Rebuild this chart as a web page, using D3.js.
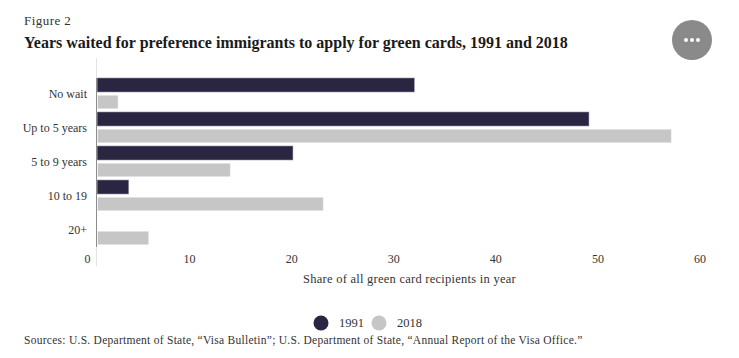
<!DOCTYPE html>
<html>
<head>
<meta charset="utf-8">
<script src="https://cdn.jsdelivr.net/npm/d3@7"></script>
<style>
  html, body { margin: 0; padding: 0; background: #fff; }
  text { font-family: "Liberation Serif", serif; fill: #333; }
</style>
</head>
<body>
<div id="chart"></div>
<script>
const categories = ['No wait', 'Up to 5 years', '5 to 9 years', '10 to 19', '20+'];
const values1991 = [32, 49.1, 20.1, 4, 0];
const values2018 = [3, 57.2, 14, 23.1, 6];
const xTicks = [0, 10, 20, 30, 40, 50, 60];
const years = ['1991', '2018'];
const colors = ['#2a2540', '#c6c6c6'];

const cw = 739, ch = 358;
const svg = d3.select('#chart').append('svg')
  .attr('width', cw).attr('height', ch)
  .style('display', 'block');

// Titles
svg.append('text').attr('x', 24).attr('y', 25)
  .attr('font-size', 13).attr('letter-spacing', 0.45).text('Figure 2');
svg.append('text').attr('x', 24).attr('y', 48)
  .attr('font-size', 16).attr('font-weight', 'bold').style('fill', '#1a1a1a')
  .text('Years waited for preference immigrants to apply for green cards, 1991 and 2018');

// Scales
const xScale = d3.scaleLinear().domain([0, 60]).range([87.5, 700]);
const yScale = d3.scaleBand().domain(categories).range([76.5, 246.5]).padding(0);
const inner = d3.scaleBand().domain(years).range([0, 34]).paddingInner(0.2).paddingOuter(0.1);
const barStart = 97.5; // bars are cut off at the axis line, right of the zero label

// Zero line
svg.append('line')
  .attr('x1', barStart - 1).attr('x2', barStart - 1)
  .attr('y1', 58).attr('y2', 266)
  .attr('stroke', '#e4e4e4').attr('stroke-width', 1);

// Bars
const drawBars = (vals, year, color) => {
  svg.append('g').selectAll('rect')
    .data(categories.map((c, i) => ({ c, v: vals[i] })).filter(d => d.v > 0))
    .join('rect')
    .attr('x', barStart)
    .attr('y', d => yScale(d.c) + inner(year))
    .attr('width', d => xScale(d.v) - barStart)
    .attr('height', inner.bandwidth())
    .attr('fill', color)
    .attr('stroke', d3.color(color).brighter(0.8))
    .attr('stroke-opacity', 0.5)
    .attr('stroke-width', 1);
};
drawBars(values1991, years[0], colors[0]);
drawBars(values2018, years[1], colors[1]);

// Axis line
svg.append('line')
  .attr('x1', barStart - 1).attr('x2', barStart - 1)
  .attr('y1', 78).attr('y2', 247)
  .attr('stroke', '#8c8c8c').attr('stroke-width', 1);

// Category labels
svg.append('g').selectAll('text').data(categories).join('text')
  .attr('x', 87)
  .attr('y', d => yScale(d) + 21.5)
  .attr('text-anchor', 'end')
  .attr('font-size', 12)
  .text(d => d);

// X tick labels
svg.append('g').selectAll('text').data(xTicks).join('text')
  .attr('x', d => xScale(d))
  .attr('y', 263)
  .attr('text-anchor', 'middle')
  .attr('font-size', 12)
  .text(d => d);

svg.append('text').attr('x', 409.5).attr('y', 283)
  .attr('text-anchor', 'middle').attr('font-size', 12.5)
  .attr('letter-spacing', 0.25)
  .text('Share of all green card recipients in year');

// Legend
const legendX = [321, 379];
years.forEach((y, i) => {
  svg.append('circle').attr('cx', legendX[i]).attr('cy', 323).attr('r', 7.5).attr('fill', colors[i]);
  svg.append('text').attr('x', legendX[i] + 18).attr('y', 327)
    .attr('font-size', 12.5).text(y);
});

// Sources
svg.append('text').attr('x', 24).attr('y', 344)
  .attr('font-size', 11.5).attr('letter-spacing', 0.27)
  .text('Sources: U.S. Department of State, “Visa Bulletin”; U.S. Department of State, “Annual Report of the Visa Office.”');

// Menu button
svg.append('circle').attr('cx', 692).attr('cy', 40).attr('r', 20).attr('fill', '#8a8a8a');
[-6, 0, 6].forEach(dx => {
  svg.append('circle').attr('cx', 692 + dx).attr('cy', 40).attr('r', 2).attr('fill', '#fff');
});
</script>
</body>
</html>
